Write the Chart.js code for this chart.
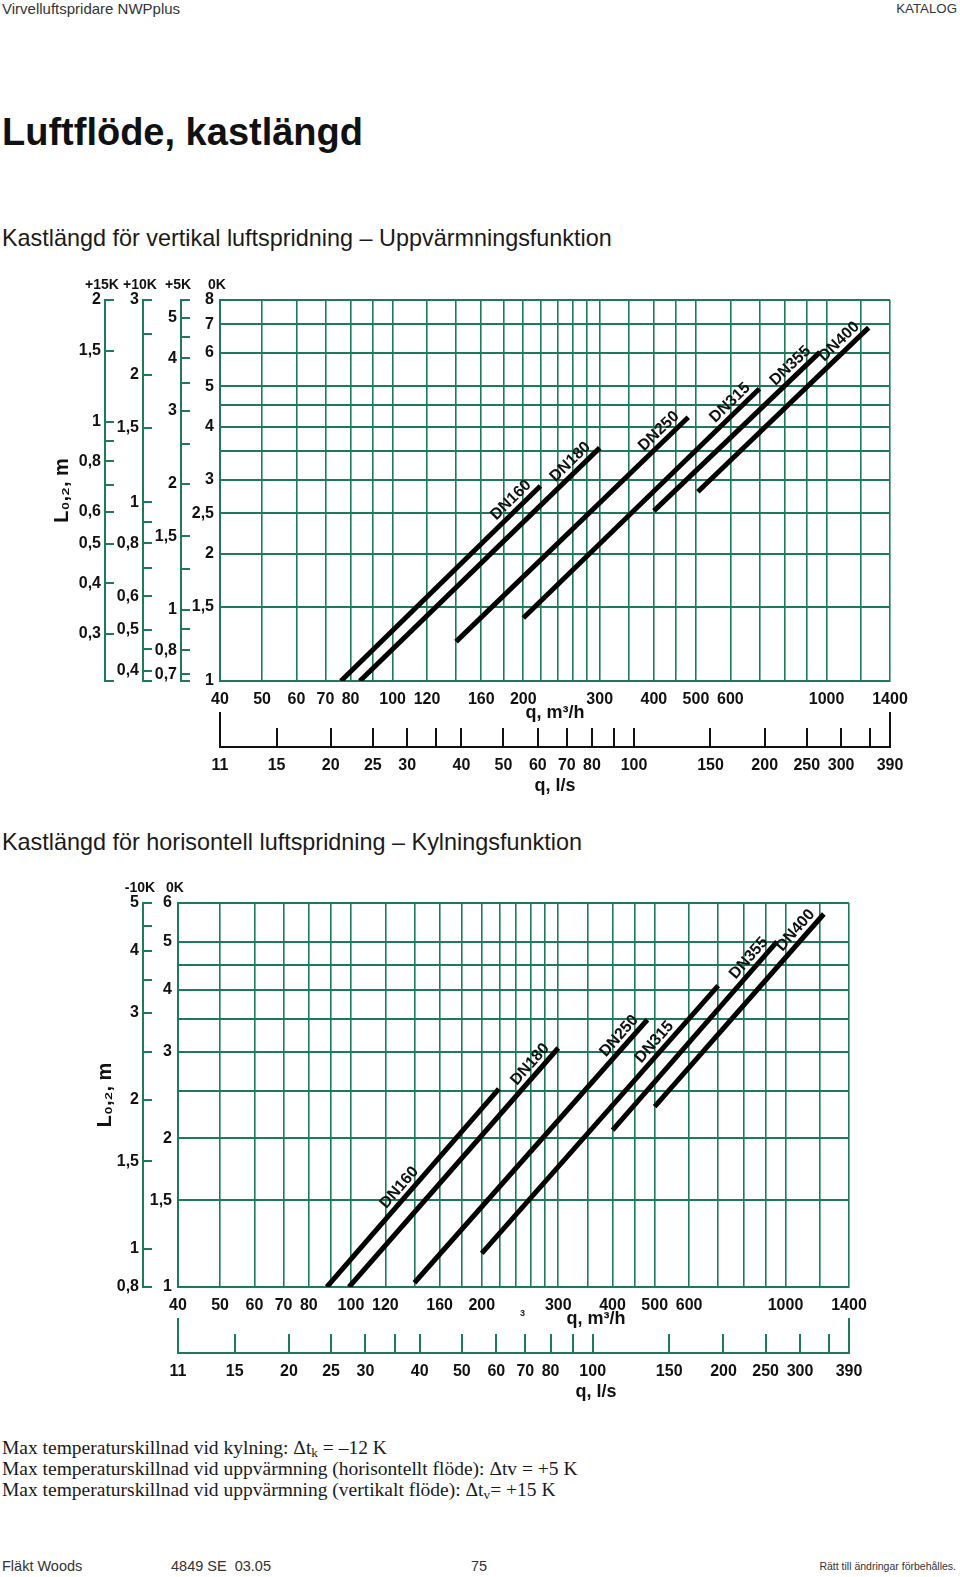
<!DOCTYPE html>
<html>
<head>
    <title>Luftflöde, kastlängd</title>
    <meta charset="UTF-8">
    <script src="https://cdn.jsdelivr.net/npm/chart.js"></script>
    <style>
        html, body { margin: 0; padding: 0; }
        body {
            width: 960px; height: 1577px; position: relative; overflow: hidden; background: #fff;
            font-family: "Liberation Sans", Arial, sans-serif; color: #1a1a1a;
        }
        .txt { position: absolute; white-space: pre; }
        .note { font-family: "Liberation Serif", "Times New Roman", serif; font-size: 19.5px; line-height: 21px; left: 2px; }
        .note sub { font-size: 0.68em; line-height: 0; vertical-align: -0.25em; }
        .chartbox { position: absolute; left: 0; width: 960px; }
        canvas { display: block; }
    </style>
</head>
<body>
    <div class="txt" style="left:2px;top:0;font-size:15px;line-height:18px;color:#333">Virvelluftspridare NWPplus</div>
    <div class="txt" style="right:3px;top:0;font-size:13.3px;line-height:18px;color:#333">KATALOG</div>
    <div class="txt" style="left:2px;top:109px;font-size:38px;line-height:46px;font-weight:bold;color:#111">Luftflöde, kastlängd</div>
    <div class="txt" style="left:2px;top:224px;font-size:23.4px;line-height:28px">Kastlängd för vertikal luftspridning – Uppvärmningsfunktion</div>

    <div class="chartbox" style="top:260px;height:545px"><canvas id="chartV" width="960" height="545"></canvas></div>

    <div class="txt" style="left:2px;top:828px;font-size:23.4px;line-height:28px">Kastlängd för horisontell luftspridning – Kylningsfunktion</div>

    <div class="chartbox" style="top:860px;height:550px"><canvas id="chartH" width="960" height="550"></canvas></div>
    <div class="txt" style="left:520px;top:1308px;font-size:9px;line-height:10px;font-weight:bold">3</div>

    <div class="txt note" style="top:1437px">Max temperaturskillnad vid kylning: Δt<sub>k</sub> = –12 K</div>
    <div class="txt note" style="top:1458px">Max temperaturskillnad vid uppvärmning (horisontellt flöde): Δtv = +5 K</div>
    <div class="txt note" style="top:1479px">Max temperaturskillnad vid uppvärmning (vertikalt flöde): Δt<sub>v</sub>= +15 K</div>

    <div class="txt" style="left:2px;top:1557px;font-size:14.5px;line-height:18px;color:#333">Fläkt Woods</div>
    <div class="txt" style="left:171px;top:1557px;font-size:14.5px;line-height:18px;color:#333">4849 SE  03.05</div>
    <div class="txt" style="left:471px;top:1557px;font-size:14.5px;line-height:18px;color:#333">75</div>
    <div class="txt" style="right:4px;top:1559px;font-size:10.5px;line-height:14px;color:#333">Rätt till ändringar förbehålles.</div>

    <script>
        var GREEN = '#1d7a5b';

        // flöde q, m3/h (x-axel i båda diagrammen)
        var qMin = 40, qMax = 1400;
        var qGrid = [40, 50, 60, 70, 80, 90, 100, 120, 140, 160, 180, 200, 220, 240, 260, 280, 300,
                     350, 400, 450, 500, 600, 700, 800, 900, 1000, 1200, 1400];
        var qLabeled = [40, 50, 60, 70, 80, 100, 120, 160, 200, 300, 400, 500, 600, 1000, 1400];

        // flöde q, l/s (skalan under diagrammen)
        var lsTicks = [11, 15, 20, 25, 30, 35, 40, 50, 60, 70, 80, 90, 100, 150, 200, 250, 300, 350, 390];
        var lsLabeled = [11, 15, 20, 25, 30, 40, 50, 60, 70, 80, 100, 150, 200, 250, 300, 390];

        // vertikal luftspridning - uppvärmning (L0,2 i m på 0K-skalan)
        var vNames = ['DN160', 'DN180', 'DN250', 'DN315', 'DN355', 'DN400'];
        var vFrom = [[76, 1], [84, 1], [140, 1.24], [200, 1.41], [400, 2.53], [505, 2.81]];
        var vTo = [[219, 2.9], [300, 3.57], [480, 4.22], [700, 4.93], [965, 6.02], [1250, 6.88]];
        var vLabelAt = [219, 300, 480, 700, 965, 1250];

        var v0Ticks = [1, 1.5, 2, 2.5, 3, 3.5, 4, 4.5, 5, 6, 7, 8];
        var v0Labels = ['1', '1,5', '2', '2,5', '3', '', '4', '', '5', '6', '7', '8'];
        var v5Ticks = [0.675, 0.7, 0.8, 0.9, 1, 1.25, 1.5, 2, 2.5, 3, 3.5, 4, 4.5, 5, 5.52];
        var v5Labels = ['', '0,7', '0,8', '', '1', '', '1,5', '2', '', '3', '', '4', '', '5', ''];
        var v10Ticks = [0.379, 0.4, 0.45, 0.5, 0.6, 0.7, 0.8, 0.9, 1, 1.5, 2, 2.5, 3];
        var v10Labels = ['', '0,4', '', '0,5', '0,6', '', '0,8', '', '1', '1,5', '2', '', '3'];
        var v15Ticks = [0.2295, 0.3, 0.4, 0.5, 0.6, 0.7, 0.8, 0.9, 1, 1.5, 2];
        var v15Labels = ['', '0,3', '0,4', '0,5', '0,6', '', '0,8', '', '1', '1,5', '2'];

        // horisontell luftspridning - kylning
        var hNames = ['DN160', 'DN180', 'DN250', 'DN315', 'DN355', 'DN400'];
        var hFrom = [[88, 1], [99, 1], [140, 1.02], [200, 1.17], [400, 2.08], [500, 2.32]];
        var hTo = [[219, 2.52], [300, 3.05], [481, 3.48], [700, 4.08], [956, 5.01], [1225, 5.7]];
        var hLabelAt = [150, 300, 481, 580, 956, 1225];

        var h0Ticks = [1, 1.5, 2, 2.5, 3, 3.5, 4, 4.5, 5, 6];
        var h0Labels = ['1', '1,5', '2', '', '3', '', '4', '', '5', '6'];
        var h10Ticks = [0.836, 1, 1.5, 2, 2.5, 3, 3.5, 4, 4.5, 5];
        var h10Labels = ['0,8', '1', '1,5', '2', '', '3', '', '4', '', '5'];

        Chart.defaults.font.family = '"Liberation Sans", "DejaVu Sans", Arial, sans-serif';
        Chart.defaults.font.size = 16;
        Chart.defaults.font.weight = 'bold';
        Chart.defaults.color = '#111';

        var qGridLabels = qGrid.map(function (v) { return qLabeled.indexOf(v) >= 0 ? String(v) : ''; });
        var lsTickLabels = lsTicks.map(function (v) { return lsLabeled.indexOf(v) >= 0 ? String(v) : ''; });

        function fmtList(list) {
            return function (v, i) { return list[i]; };
        }
        function useTicks(list) {
            return function (scale) {
                scale.ticks = list.map(function (v) {
                    return { value: Math.min(Math.max(v, scale.min), scale.max) };
                });
            };
        }
        function boxSize(n) {
            return function (scale) {
                if (scale.isHorizontal()) { scale.height = n; } else { scale.width = n; }
            };
        }

        // extra L-skala till vänster (streck åt höger, siffror till vänster)
        function sideAxis(weight, ticks, labels, width, title) {
            return {
                type: 'logarithmic', position: 'left', weight: weight,
                min: ticks[0], max: ticks[ticks.length - 1],
                afterBuildTicks: useTicks(ticks), afterFit: boxSize(width),
                border: { display: true, color: GREEN, width: 2 },
                grid: { drawOnChartArea: false, drawTicks: true, tickLength: -9, color: GREEN, lineWidth: 2 },
                ticks: { autoSkip: false, padding: 13, callback: fmtList(labels) },
                title: { display: !!title, text: title || '', font: { size: 20 }, padding: { top: 5, bottom: 0 } }
            };
        }

        function mainAxis(ticks, labels, width) {
            return {
                type: 'logarithmic', position: 'left', weight: 0,
                min: ticks[0], max: ticks[ticks.length - 1],
                afterBuildTicks: useTicks(ticks), afterFit: boxSize(width),
                border: { display: true, color: GREEN, width: 2 },
                grid: { color: GREEN, lineWidth: 2, drawTicks: false },
                ticks: { autoSkip: false, padding: 6, callback: fmtList(labels) }
            };
        }

        function overlay(heads, lsColor, labelAt) {
            return {
                id: 'overlay',
                afterDraw: function (chart) {
                    var ctx = chart.ctx, area = chart.chartArea;
                    var xs = chart.scales.x, ys = chart.scales.y, ls = chart.scales.x2;
                    ctx.save();
                    // temperaturrubriker över skalorna
                    ctx.font = 'bold 14px "Liberation Sans", Arial, sans-serif';
                    ctx.fillStyle = '#111';
                    ctx.textAlign = 'center';
                    ctx.textBaseline = 'middle';
                    Object.keys(heads).forEach(function (id) {
                        ctx.fillText(heads[id], chart.scales[id].right - 3, area.top - 15);
                    });
                    // längre ändstreck på l/s-skalan
                    ctx.strokeStyle = lsColor;
                    ctx.lineWidth = 2;
                    [ls.min, ls.max].forEach(function (v) {
                        var px = ls.getPixelForValue(v);
                        ctx.beginPath();
                        ctx.moveTo(px, ls.top);
                        ctx.lineTo(px, ls.top - 35);
                        ctx.stroke();
                    });
                    // DN-etiketter längs linjerna
                    ctx.font = 'bold 16px "Liberation Sans", Arial, sans-serif';
                    ctx.textAlign = 'right';
                    ctx.textBaseline = 'alphabetic';
                    chart.data.datasets.forEach(function (ds, i) {
                        var a = ds.data[0], b = ds.data[1];
                        var ang = Math.atan2(ys.getPixelForValue(b.y) - ys.getPixelForValue(a.y),
                                             xs.getPixelForValue(b.x) - xs.getPixelForValue(a.x));
                        var t = Math.log(labelAt[i] / a.x) / Math.log(b.x / a.x);
                        var L = a.y * Math.pow(b.y / a.y, t);
                        ctx.save();
                        ctx.translate(xs.getPixelForValue(labelAt[i]), ys.getPixelForValue(L));
                        ctx.rotate(ang);
                        ctx.fillText(ds.label, -6, -6);
                        ctx.restore();
                    });
                    ctx.restore();
                }
            };
        }

        function makeChart(canvasId, names, from, to, labelAt, yScales, heads, pad, lsColor, shift) {
            var scales = {
                x: {
                    type: 'logarithmic', position: 'bottom', weight: 0, min: qMin, max: qMax,
                    afterBuildTicks: useTicks(qGrid), afterFit: boxSize(66),
                    border: { display: true, color: GREEN, width: 2 },
                    grid: { color: GREEN, lineWidth: 1.6, drawTicks: false },
                    ticks: { autoSkip: false, maxRotation: 0, minRotation: 0, padding: 9, callback: fmtList(qGridLabels) },
                    title: { display: true, text: shift + 'q, m³/h', font: { size: 18 }, padding: { top: 0, bottom: 23.5 } }
                },
                x2: {
                    type: 'logarithmic', position: 'bottom', weight: 1, min: qMin / 3.6, max: qMax / 3.6,
                    afterBuildTicks: useTicks(lsTicks), afterFit: boxSize(52),
                    border: { display: true, color: lsColor, width: 2 },
                    grid: { drawOnChartArea: false, drawTicks: true, tickLength: -19, color: lsColor, lineWidth: 2 },
                    ticks: { autoSkip: false, maxRotation: 0, minRotation: 0, padding: 28, callback: fmtList(lsTickLabels) },
                    title: { display: true, text: shift + 'q, l/s', font: { size: 18 }, padding: { top: 0, bottom: 2 } }
                }
            };
            Object.keys(yScales).forEach(function (id) { scales[id] = yScales[id]; });

            return new Chart(document.getElementById(canvasId).getContext('2d'), {
                type: 'line',
                data: {
                    datasets: names.map(function (name, i) {
                        return {
                            label: name,
                            xAxisID: 'x',
                            yAxisID: 'y',
                            data: [{ x: from[i][0], y: from[i][1] }, { x: to[i][0], y: to[i][1] }],
                            borderColor: '#000',
                            borderWidth: 5,
                            borderCapStyle: 'butt',
                            pointRadius: 0,
                            fill: false
                        };
                    })
                },
                options: {
                    responsive: false,
                    animation: false,
                    events: [],
                    layout: { padding: pad },
                    scales: scales,
                    plugins: { legend: { display: false }, tooltip: { enabled: false } }
                },
                plugins: [overlay(heads, lsColor, labelAt)]
            });
        }

        makeChart('chartV', vNames, vFrom, vTo, vLabelAt, {
            y15: sideAxis(3, v15Ticks, v15Labels, 60, 'L₀,₂, m'),
            y10: sideAxis(2, v10Ticks, v10Labels, 38),
            y5: sideAxis(1, v5Ticks, v5Labels, 38),
            y: mainAxis(v0Ticks, v0Labels, 39)
        }, { y15: '+15K', y10: '+10K', y5: '+5K', y: '0K' },
        { top: 40, right: 70, bottom: 6, left: 45 }, '#111', '');

        makeChart('chartH', hNames, hFrom, hTo, hLabelAt, {
            y10: sideAxis(1, h10Ticks, h10Labels, 55, 'L₀,₂, m'),
            y: mainAxis(h0Ticks, h0Labels, 35)
        }, { y10: '-10K', y: '0K' },
        { top: 43, right: 111, bottom: 5, left: 88 }, GREEN, ' '.repeat(33));
    </script>
</body>
</html>
